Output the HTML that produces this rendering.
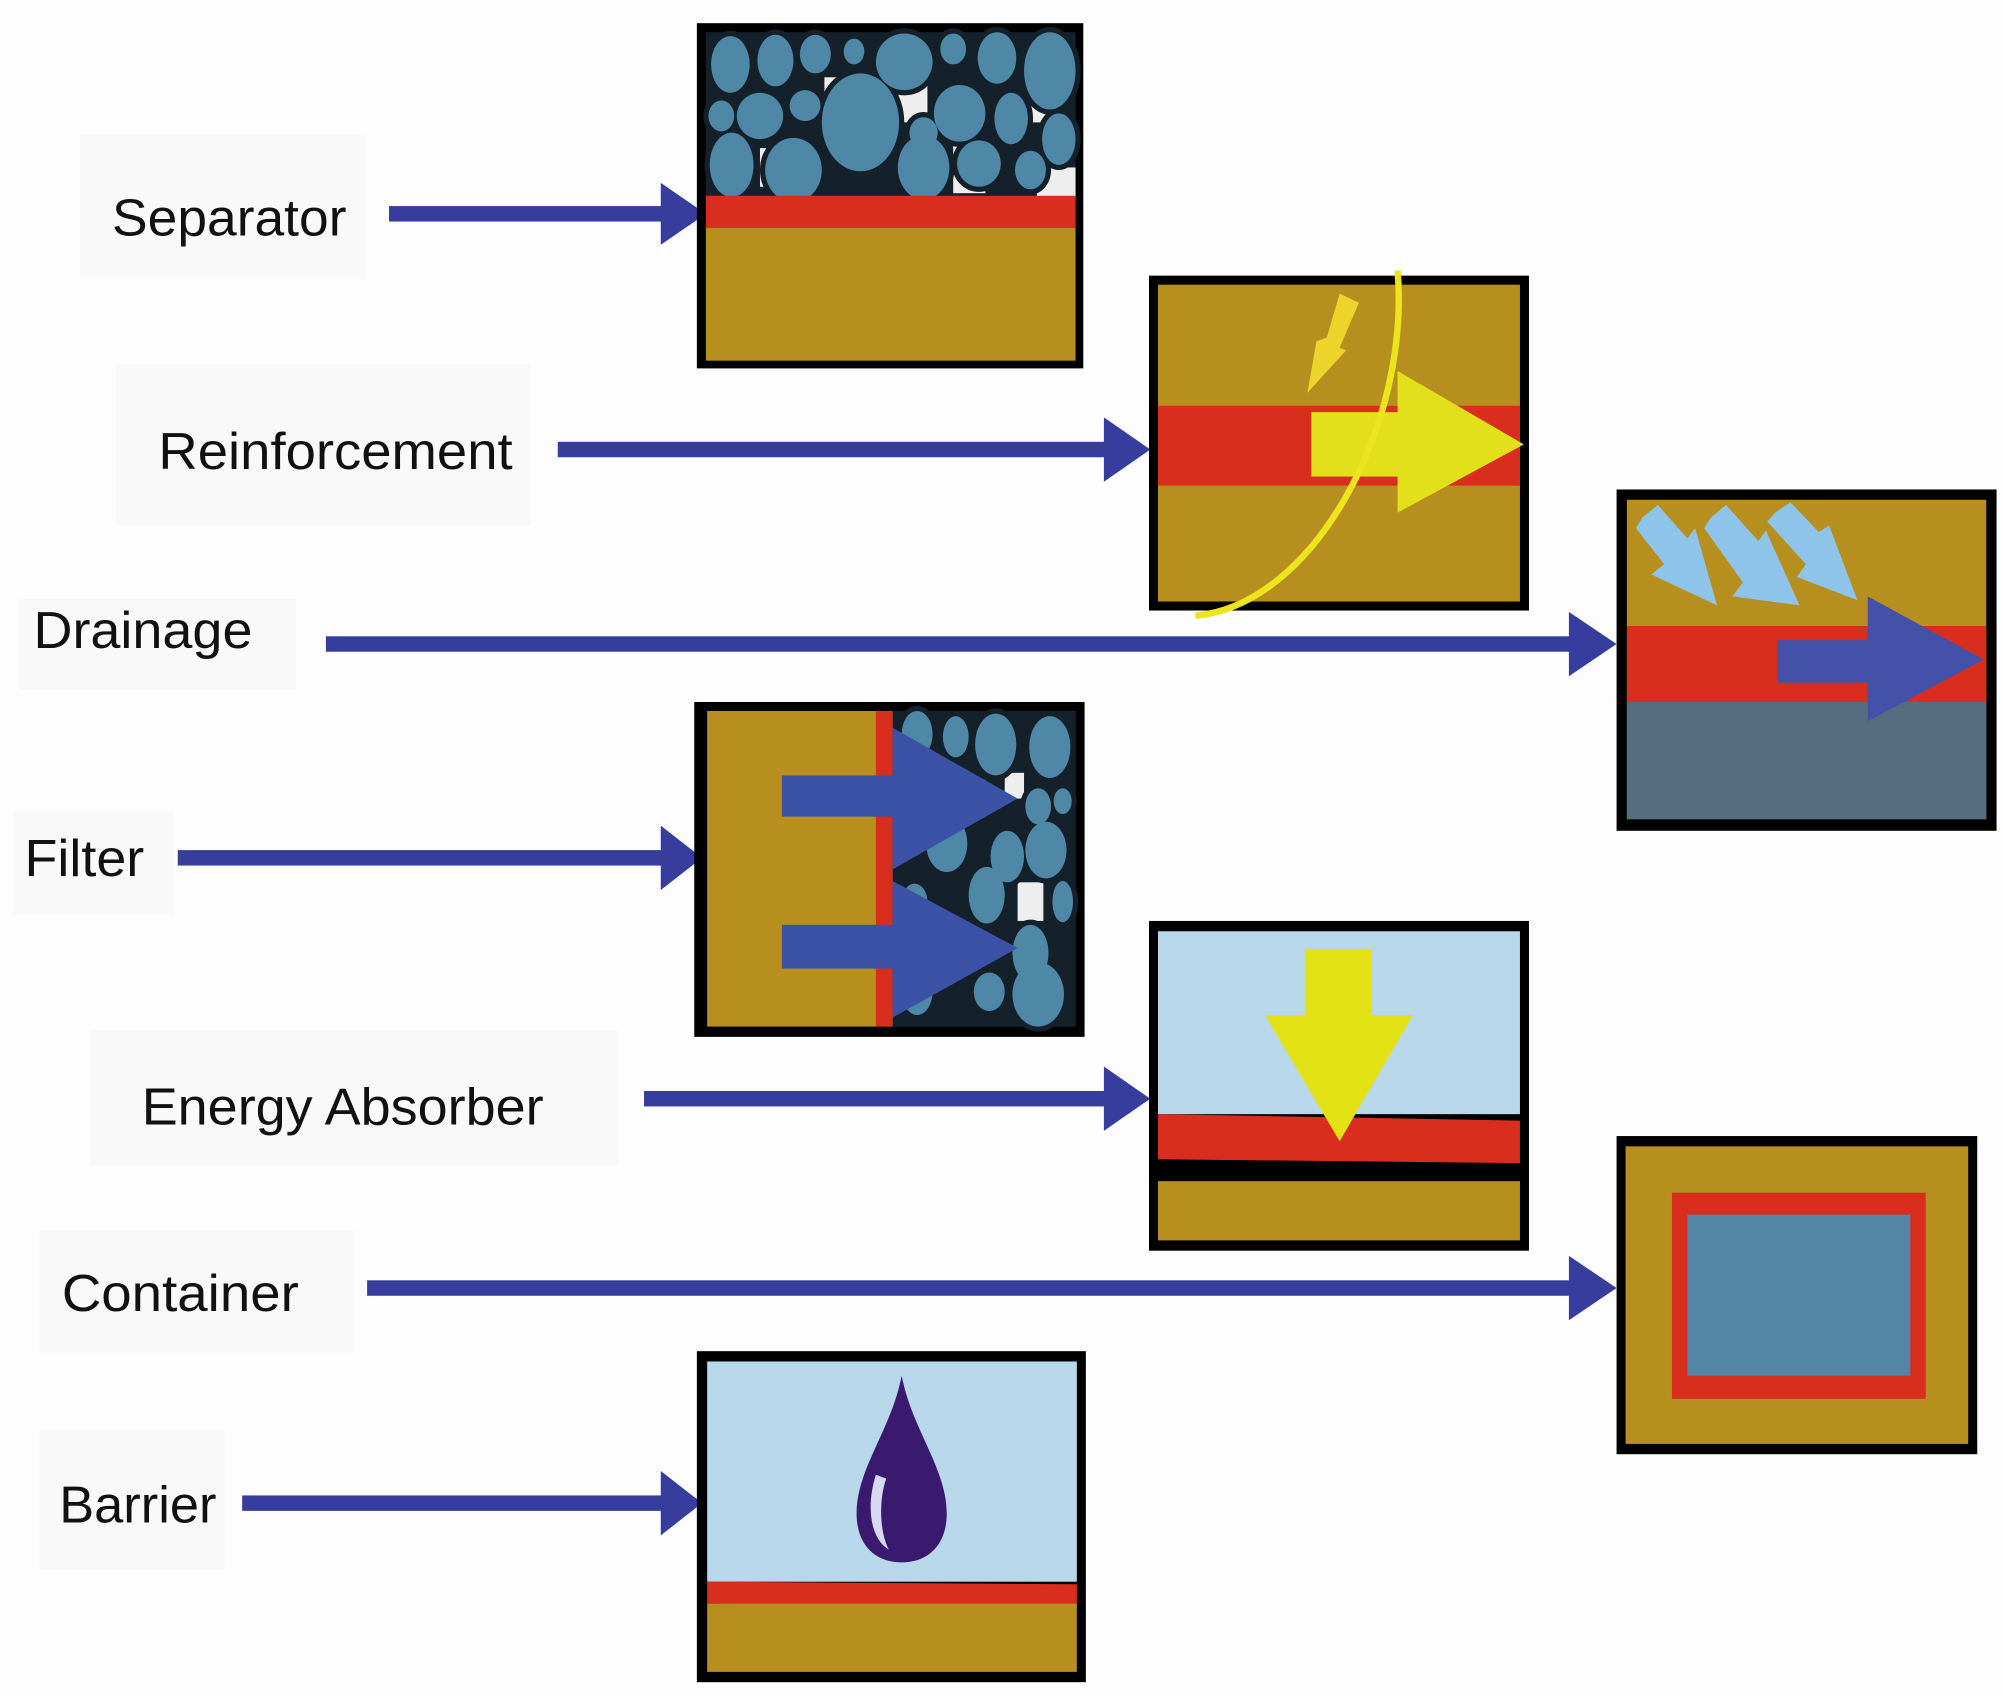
<!DOCTYPE html>
<html><head><meta charset="utf-8"><style>
html,body{margin:0;padding:0;background:#fdfdfd;}
svg{display:block;}
text{font-family:"Liberation Sans",sans-serif;font-size:40px;fill:#111;}
</style></head><body>
<svg width="2003" height="1697" viewBox="0 0 1555 1317.5" preserveAspectRatio="none" xmlns="http://www.w3.org/2000/svg">
<rect width="1555" height="1318" fill="#fdfdfd"/>
<defs>
<g id="peb1">
<ellipse cx="567" cy="50" rx="15" ry="22"/><ellipse cx="602" cy="47" rx="14" ry="20"/><ellipse cx="633" cy="42" rx="12" ry="15"/><ellipse cx="663" cy="40" rx="8" ry="10"/><ellipse cx="702" cy="48" rx="22" ry="22"/><ellipse cx="740" cy="38" rx="10" ry="12"/><ellipse cx="774" cy="45" rx="15" ry="20"/><ellipse cx="815" cy="55" rx="20" ry="30"/><ellipse cx="560" cy="90" rx="10" ry="12"/><ellipse cx="590" cy="90" rx="18" ry="18"/><ellipse cx="625" cy="82" rx="12" ry="12"/><ellipse cx="668" cy="95" rx="30" ry="38"/><ellipse cx="717" cy="103" rx="11" ry="12"/><ellipse cx="745" cy="88" rx="20" ry="22"/><ellipse cx="785" cy="92" rx="13" ry="20"/><ellipse cx="822" cy="108" rx="13" ry="20"/><ellipse cx="568" cy="128" rx="17" ry="25"/><ellipse cx="616" cy="132" rx="22" ry="25"/><ellipse cx="717" cy="130" rx="20" ry="25"/><ellipse cx="760" cy="127" rx="17" ry="18"/><ellipse cx="800" cy="132" rx="12" ry="15"/>
</g>
<g id="peb2">
<ellipse cx="712" cy="570" rx="12" ry="18"/><ellipse cx="742" cy="572" rx="10" ry="16"/><ellipse cx="773" cy="578" rx="16" ry="24"/><ellipse cx="815" cy="580" rx="16" ry="24"/><ellipse cx="760" cy="620" rx="11" ry="16"/><ellipse cx="806" cy="626" rx="10" ry="14"/><ellipse cx="825" cy="622" rx="7" ry="10"/><ellipse cx="735" cy="655" rx="16" ry="22"/><ellipse cx="782" cy="665" rx="13" ry="20"/><ellipse cx="812" cy="660" rx="16" ry="22"/><ellipse cx="710" cy="700" rx="10" ry="14"/><ellipse cx="766" cy="695" rx="14" ry="22"/><ellipse cx="825" cy="700" rx="8" ry="16"/><ellipse cx="740" cy="740" rx="16" ry="22"/><ellipse cx="800" cy="740" rx="14" ry="22"/><ellipse cx="712" cy="770" rx="12" ry="18"/><ellipse cx="768" cy="770" rx="12" ry="15"/><ellipse cx="806" cy="772" rx="20" ry="25"/>
</g>
</defs>

<g fill="#f9f9f9">
<rect x="62" y="105" width="222" height="112"/><rect x="90" y="283" width="322" height="125"/><rect x="15" y="465" width="215" height="70"/><rect x="10" y="630" width="125" height="80"/><rect x="70" y="800" width="410" height="105"/><rect x="30" y="955" width="245" height="95"/><rect x="30" y="1110" width="145" height="108"/>
</g>

<text x="87" y="183" textLength="182" lengthAdjust="spacingAndGlyphs">Separator</text>
<text x="123" y="364" textLength="275" lengthAdjust="spacingAndGlyphs">Reinforcement</text>
<text x="26" y="503" textLength="170" lengthAdjust="spacingAndGlyphs">Drainage</text>
<text x="19" y="680" textLength="93" lengthAdjust="spacingAndGlyphs">Filter</text>
<text x="110" y="873" textLength="312" lengthAdjust="spacingAndGlyphs">Energy Absorber</text>
<text x="48" y="1018" textLength="184" lengthAdjust="spacingAndGlyphs">Container</text>
<text x="46" y="1182" textLength="122" lengthAdjust="spacingAndGlyphs">Barrier</text>

<g fill="#363d9c">
<rect x="302" y="160" width="215" height="12"/><polygon points="513,142 548,166 513,190"/>
<rect x="433" y="343" width="428" height="12"/><polygon points="857,324 893,349 857,374"/>
<rect x="253" y="494" width="970" height="12"/><polygon points="1218,475 1255,500 1218,525"/>
<rect x="138" y="660" width="380" height="12"/><polygon points="513,641 545,666 513,691"/>
<rect x="500" y="847" width="362" height="12"/><polygon points="857,828 893,853 857,878"/>
<rect x="285" y="994" width="938" height="12"/><polygon points="1218,975 1255,1000 1218,1025"/>
<rect x="188" y="1161" width="330" height="12"/><polygon points="513,1142 545,1167 513,1192"/>
</g>

<rect x="541" y="18" width="300" height="268" fill="#000"/>
<rect x="548" y="25" width="287" height="130" fill="#14202a"/>
<g fill="#eeeeee"><rect x="640" y="60" width="20" height="40"/><rect x="690" y="65" width="30" height="30"/><rect x="795" y="70" width="30" height="25"/><rect x="590" y="115" width="20" height="30"/><rect x="740" y="110" width="25" height="40"/><rect x="805" y="130" width="30" height="25"/></g>
<g fill="#14202a" stroke="#14202a" stroke-width="8"><use href="#peb1"/></g>
<g fill="#4f87a6"><use href="#peb1"/></g>
<rect x="548" y="152" width="287" height="25" fill="#d92e1e"/>
<rect x="548" y="177" width="287" height="103" fill="#b68f1f"/>

<rect x="892" y="214" width="295" height="260" fill="#000"/>
<rect x="899" y="221" width="281" height="246" fill="#b68f1f"/>
<rect x="899" y="315" width="281" height="62" fill="#d92e1e"/>
<rect x="1018" y="320" width="72" height="50" fill="#e2e01b"/>
<polygon points="1085,288 1183,345 1085,398" fill="#e2e01b"/>
<polygon points="1040,228 1055,235 1040,270 1045,272 1015,305 1022,265 1030,262" fill="#ecd42a"/>
<path d="M1085,210 C1095,330 1020,470 928,478" fill="none" stroke="#ece41c" stroke-width="5"/>

<rect x="1255" y="380" width="295" height="265" fill="#000"/>
<rect x="1263" y="388" width="279" height="248" fill="#b68f1f"/>
<rect x="1263" y="486" width="279" height="59" fill="#d92e1e"/>
<rect x="1263" y="545" width="279" height="91" fill="#546e80"/>
<rect x="1380" y="497" width="75" height="33" fill="#4351a8"/>
<polygon points="1450,463 1540,512 1450,560" fill="#4351a8"/>
<g fill="#8fc4ea">
<polygon points="1275,402 1287,392 1310,418 1316,410 1333,470 1282,446 1292,438 1270,410"/>
<polygon points="1328,402 1340,392 1365,420 1371,412 1397,470 1345,463 1353,452 1323,410"/>
<polygon points="1378,398 1390,390 1412,413 1420,408 1442,466 1395,448 1402,438 1372,405"/>
</g>

<rect x="539" y="545" width="303" height="260" fill="#000"/>
<rect x="549" y="552" width="286" height="245" fill="#b68f1f"/>
<rect x="680" y="552" width="13" height="245" fill="#d92e1e"/>
<rect x="693" y="552" width="142" height="245" fill="#14202a"/>
<g fill="#eeeeee"><rect x="720" y="600" width="25" height="30"/><rect x="790" y="685" width="20" height="30"/><rect x="700" y="720" width="20" height="25"/><rect x="780" y="600" width="15" height="20"/></g>
<g fill="#14202a" stroke="#14202a" stroke-width="8"><use href="#peb2"/></g>
<g fill="#4f87a6"><use href="#peb2"/></g>
<g fill="#3b52a6">
<rect x="607" y="602" width="95" height="32"/><polygon points="693,565 790,620 693,675"/>
<rect x="607" y="718" width="95" height="34"/><polygon points="693,684 790,736 693,790"/>
</g>

<rect x="892" y="715" width="295" height="256" fill="#000"/>
<rect x="899" y="723" width="281" height="142" fill="#b8d7ea"/>
<polygon points="899,865 1180,870 1180,903 899,900" fill="#d92e1e"/>
<rect x="899" y="917" width="281" height="46" fill="#b68f1f"/>
<rect x="1013" y="737" width="52" height="53" fill="#e2e215"/>
<polygon points="982,788 1097,788 1040,886" fill="#e2e215"/>

<rect x="1255" y="882" width="280" height="247" fill="#000"/>
<rect x="1262" y="890" width="266" height="231" fill="#b68f1f"/>
<rect x="1298" y="926" width="197" height="160" fill="#d92e1e"/>
<rect x="1310" y="943" width="173" height="125" fill="#5386a6"/>

<rect x="541" y="1049" width="302" height="257" fill="#000"/>
<rect x="549" y="1057" width="287" height="171" fill="#b8d7ea"/>
<polygon points="549,1228 836,1230 836,1248 549,1245" fill="#d92e1e"/>
<rect x="549" y="1245" width="287" height="53" fill="#b68f1f"/>
<path d="M700,1068 C708,1110 735,1140 735,1175 C735,1200 720,1213 700,1213 C680,1213 665,1200 665,1175 C665,1140 692,1110 700,1068 Z" fill="#3a1a6e"/>
<path d="M680,1145 C672,1170 676,1195 690,1203 C683,1190 682,1165 688,1148 Z" fill="#d8d8f0"/>
</svg>
</body></html>
